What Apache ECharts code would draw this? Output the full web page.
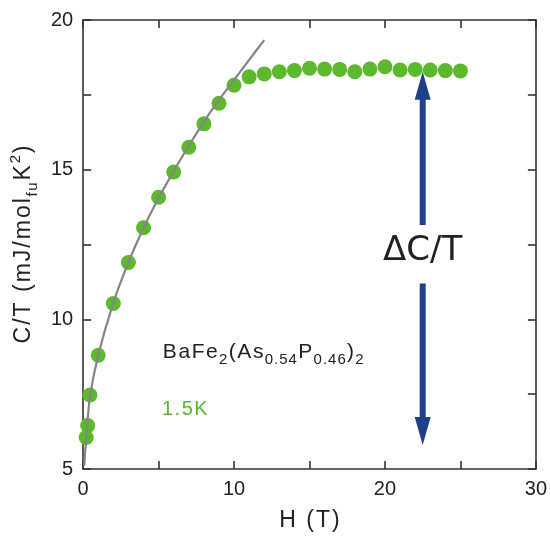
<!DOCTYPE html>
<html>
<head>
<meta charset="utf-8">
<script src="https://cdn.jsdelivr.net/npm/echarts@6/dist/echarts.min.js"></script>
<style>
  html, body { margin: 0; padding: 0; background: #fff; }
  #chart { width: 550px; height: 537px; }
</style>
</head>
<body>
<div id="chart"></div>
<script>
// Specific heat C/T of BaFe2(As0.54P0.46)2 at 1.5 K versus magnetic field
const fieldH = [0.2, 0.3, 0.45, 1, 2, 3, 4, 5, 6, 7, 8, 9, 10, 11, 12, 13, 14, 15, 16, 17, 18, 19, 20, 21, 22, 23, 24, 25];
const heatCT = [6.05, 6.45, 7.47, 8.8, 10.53, 11.9, 13.06, 14.08, 14.92, 15.75, 16.53, 17.22, 17.82, 18.1, 18.2, 18.27, 18.31, 18.39, 18.36, 18.35, 18.27, 18.36, 18.44, 18.33, 18.35, 18.33, 18.31, 18.3];

// Fitted low-field curve
const fitH = [0.07, 0.2, 0.45, 1, 2, 3, 4, 5, 6, 7, 8, 9, 10, 11, 12];
const fitCT = [5.1, 6.0, 7.4, 8.8, 10.55, 11.9, 13.05, 14.05, 14.95, 15.8, 16.6, 17.33, 18.0, 18.67, 19.33];

// Double arrow marking the jump ΔC/T
const arrowH = 22.5;
const arrowUpper = [13.15, 18.27];   // shaft start, tip
const arrowLower = [11.2, 5.8];      // shaft start, tip
const arrowLabelCT = 12.28;
const arrowLabel = 'ΔC/T';

const xTicks = [0, 10, 20, 30];
const yTicks = [5, 10, 15, 20];

const FONT = 'Liberation Sans';
const GREEN = '#5cb82c';
const BLUE = '#1e3f8a';
const AXIS = '#333';
const INK = '#222';

// Wrap every character in its own rich-text token so the token padding
// gives the slightly loose letter spacing of the labels.
function spaced(str, key) {
  return str.split('').map(ch => '{' + key + '|' + ch + '}').join('');
}

const chart = echarts.init(document.getElementById('chart'), null, { renderer: 'canvas' });

const axisCommon = {
  axisLine: { show: true, onZero: false, lineStyle: { color: AXIS, width: 1.6 } },
  axisTick: { show: true, inside: true, length: 8, lineStyle: { color: AXIS, width: 1.6 } },
  splitLine: { show: false }
};

function arrowRender(params, api) {
  const x = api.value(0);
  const from = api.coord([x, api.value(1)]);
  const tip = api.coord([x, api.value(2)]);
  const dir = tip[1] < from[1] ? -1 : 1;
  const headLen = 28, headHalf = 8;
  const base = tip[1] - dir * headLen;
  return {
    type: 'group',
    children: [
      { type: 'line', shape: { x1: from[0], y1: from[1], x2: tip[0], y2: base + dir * 1 },
        style: { stroke: BLUE, lineWidth: 6 } },
      { type: 'polygon', shape: { points: [[tip[0], tip[1]], [tip[0] - headHalf, base], [tip[0] + headHalf, base]] },
        style: { fill: BLUE } }
    ]
  };
}

const yTitle = spaced('C/T (mJ/mol', 'b') + spaced('fu', 'sub') + spaced('K', 'b') + spaced('2', 'sup') + spaced(')', 'b');
const compound = spaced('BaFe', 'b') + spaced('2', 'sub') + spaced('(As', 'b') + spaced('0.54', 'sub') +
  spaced('P', 'b') + spaced('0.46', 'sub') + spaced(')', 'b') + spaced('2', 'sub');

const option = {
  animation: false,
  backgroundColor: '#fff',
  grid: { left: 82, top: 20, right: 14, bottom: 68, containLabel: false },
  xAxis: [
    Object.assign({}, axisCommon, {
      type: 'value', min: 0, max: 30, interval: 5, position: 'bottom',
      name: spaced('H (T)', 'b'), nameLocation: 'middle', nameGap: 40,
      nameTextStyle: {
        fontFamily: FONT, fontSize: 23, color: INK,
        rich: { b: { fontFamily: FONT, fontSize: 23, color: INK, padding: [0, 1, 0, 1] } }
      },
      axisLabel: {
        fontFamily: FONT, fontSize: 20, color: INK, margin: 10,
        formatter: v => xTicks.indexOf(v) >= 0 ? String(v) : ''
      }
    }),
    Object.assign({}, axisCommon, {
      type: 'value', min: 0, max: 30, interval: 5, position: 'top',
      axisLabel: { show: false }
    })
  ],
  yAxis: [
    Object.assign({}, axisCommon, {
      type: 'value', min: 5, max: 20, interval: 2.5, position: 'left',
      name: yTitle,
      nameLocation: 'middle', nameGap: 34,
      nameTextStyle: {
        fontFamily: FONT, color: INK,
        rich: {
          b: { fontFamily: FONT, fontSize: 23, color: INK, lineHeight: 32, padding: [0, 1, 0, 1] },
          sub: { fontFamily: FONT, fontSize: 15, color: INK, lineHeight: 15, verticalAlign: 'bottom', padding: [0, 0.8, 0, 0.8] },
          sup: { fontFamily: FONT, fontSize: 15, color: INK, lineHeight: 15, verticalAlign: 'top', padding: [0, 0.8, 0, 0.8] }
        }
      },
      axisLabel: {
        fontFamily: FONT, fontSize: 20, color: INK, margin: 10,
        formatter: v => yTicks.indexOf(v) >= 0 ? String(v) : ''
      }
    }),
    Object.assign({}, axisCommon, {
      type: 'value', min: 5, max: 20, interval: 2.5, position: 'right',
      axisLabel: { show: false }
    })
  ],
  graphic: [
    {
      type: 'text', left: 162, top: 342, z: 10,
      style: {
        text: compound,
        rich: {
          b: { fontFamily: FONT, fontSize: 21, fill: INK, lineHeight: 30, padding: [0, 0.8, 0, 0.8] },
          sub: { fontFamily: FONT, fontSize: 15, fill: INK, lineHeight: 15, verticalAlign: 'bottom', padding: [0, 0.5, 0, 0.5] }
        }
      }
    },
    {
      type: 'text', left: 162, top: 399, z: 10,
      style: {
        text: spaced('1.5K', 'g'),
        rich: { g: { fontFamily: FONT, fontSize: 20, fill: GREEN, padding: [0, 0.75, 0, 0.75] } }
      }
    }
  ],
  series: [
    {
      type: 'scatter',
      xAxisIndex: 0, yAxisIndex: 0,
      data: fieldH.map((h, i) => [h, heatCT[i]]),
      symbol: 'circle', symbolSize: 15,
      itemStyle: { color: GREEN, opacity: 1 },
      z: 2
    },
    {
      type: 'line',
      xAxisIndex: 0, yAxisIndex: 0,
      data: fitH.map((h, i) => [h, fitCT[i]]),
      smooth: 0.3, showSymbol: false, symbol: 'none',
      lineStyle: { color: '#858585', width: 2.2 },
      z: 3
    },
    {
      type: 'custom',
      xAxisIndex: 0, yAxisIndex: 0,
      renderItem: arrowRender,
      data: [[arrowH, arrowUpper[0], arrowUpper[1]], [arrowH, arrowLower[0], arrowLower[1]]],
      z: 4
    },
    {
      type: 'custom',
      xAxisIndex: 0, yAxisIndex: 0,
      renderItem: function (params, api) {
        const p = api.coord([api.value(0), api.value(1)]);
        return {
          type: 'text',
          style: {
            x: p[0], y: p[1], text: arrowLabel,
            font: '34px "DejaVu Sans"', fill: INK,
            align: 'center', verticalAlign: 'middle'
          }
        };
      },
      data: [[arrowH, arrowLabelCT]],
      z: 4
    }
  ]
};

chart.setOption(option);
</script>
</body>
</html>
